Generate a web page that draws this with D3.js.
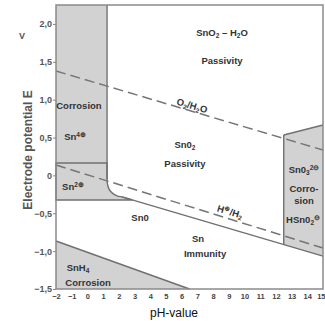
<!DOCTYPE html>
<html>
<head>
<meta charset="utf-8">
<script src="https://cdn.jsdelivr.net/npm/d3@7"></script>
<style>
  body { margin: 0; background: #fff; }
  svg { display: block; }
</style>
</head>
<body>
<script>

// ---- data (pH, potential E in V) ----

const phTicks = [-2, -1, 0, 1, 2, 3, 4, 5, 6, 7, 8, 9, 10, 11, 12, 13, 14, 15];
const eTicks = [2.0, 1.5, 1.0, 0.5, 0, -0.5, -1.0, -1.5];

// Sn4+ / Sn2+ boundary, Sn2+ lower limit, acid limit of SnO2
const sn4Sn2E = 0.164;
const sn2LowE = -0.325;
const acidPh = 1.25;
const alkaliPh = 12.5;

// SnO2 / Sn line  E = a + b * pH
const snLineA = -0.15;
const snLineB = -0.061;

// water lines (end points)
const o2Line = [[-2, 1.378], [15, 0.335]];
const h2Line = [[-2, 0.137], [15, -0.959]];

// SnH4 corrosion boundary
const snh4Line = [[-2, -0.866], [6.5, -1.5]];

// top of alkaline corrosion region
const alkaliTop = [[12.5, 0.533], [15, 0.665]];

const labels = [
  { t: [["SnO"], ["2", "sub"], [" – H"], ["2", "sub"], ["O"]], ph: 8.57, e: 1.89 },
  { t: [["Passivity"]], ph: 8.57, e: 1.52 },
  { t: [["O"], ["2", "sub"], ["/H"], ["2", "sub"], ["O"]], ph: 6.66, e: 0.92, rot: 16 },
  { t: [["Sn0"], ["2", "sub"]], ph: 6.21, e: 0.40 },
  { t: [["Passivity"]], ph: 6.21, e: 0.16 },
  { t: [["Corrosion"]], ph: -0.54, e: 0.92 },
  { t: [["Sn"], ["4⊕", "sup"]], ph: -0.79, e: 0.51 },
  { t: [["Sn"], ["2⊕", "sup"]], ph: -0.92, e: -0.15 },
  { t: [["Sn0"]], ph: 3.35, e: -0.56 },
  { t: [["Sn"]], ph: 7.04, e: -0.83 },
  { t: [["Immunity"]], ph: 7.49, e: -1.03 },
  { t: [["H"], ["⊕", "sup"], ["/H"], ["2", "sub"]], ph: 9.08, e: -0.48, rot: 16 },
  { t: [["Sn0"], ["3", "sub"], ["2⊖", "sup"]], ph: 13.79, e: 0.07 },
  { t: [["Corro-"]], ph: 13.79, e: -0.17 },
  { t: [["sion"]], ph: 13.79, e: -0.34 },
  { t: [["HSn0"], ["2", "sub"], ["⊖", "sup"]], ph: 13.73, e: -0.59 },
  { t: [["SnH"], ["4", "sub"]], ph: -0.6, e: -1.22 },
  { t: [["Corrosion"]], ph: 0.04, e: -1.41 }
];


// ---- layout ----

const WIDTH = 325, HEIGHT = 321;
const LEFT = 56, RIGHT = 323, TOP = 5, BOTTOM = 289;

const FILL = "#d2d2d2";
const LINE = "#707070";
const TEXT = "#333";

const x = d3.scaleLinear().domain([-2, 15]).range([LEFT, RIGHT]);
const y = d3.scaleLinear().domain([-1.5, 2.25]).range([BOTTOM, TOP]);

const snLine = ph => snLineA + snLineB * ph;
// where the SnO2/Sn line meets the Sn2+ lower limit
const snLineCross = (sn2LowE - snLineA) / snLineB;

const svg = d3.select("body").append("svg")
    .attr("width", WIDTH)
    .attr("height", HEIGHT)
    .attr("font-family", "'Liberation Sans', Arial, sans-serif");

const line = d3.line().x(d => x(d[0])).y(d => y(d[1]));


// ---- shaded regions ----

// Sn4+ corrosion
svg.append("path")
    .attr("d", line([[-2, 2.25], [acidPh, 2.25], [acidPh, sn4Sn2E], [-2, sn4Sn2E]]) + "Z")
    .attr("fill", FILL);

// Sn2+ corrosion, with the rounded corner down to the SnO2/Sn line
const curveEnd = 2.2;
const sn2 = d3.path();
sn2.moveTo(x(-2), y(sn4Sn2E));
sn2.lineTo(x(acidPh), y(sn4Sn2E));
sn2.lineTo(x(acidPh), y(-0.05));
sn2.quadraticCurveTo(x(acidPh), y(-0.26), x(curveEnd), y(snLine(curveEnd)));
sn2.lineTo(x(snLineCross), y(sn2LowE));
sn2.lineTo(x(-2), y(sn2LowE));
sn2.closePath();
svg.append("path")
    .attr("d", sn2.toString())
    .attr("fill", FILL);

// alkaline corrosion
svg.append("path")
    .attr("d", line([alkaliTop[0], alkaliTop[1], [15, snLine(15)], [alkaliPh, snLine(alkaliPh)]]) + "Z")
    .attr("fill", FILL);

// SnH4 corrosion
svg.append("path")
    .attr("d", line([snh4Line[0], snh4Line[1], [-2, -1.5]]) + "Z")
    .attr("fill", FILL);


// ---- boundary lines ----

const bounds = svg.append("g")
    .attr("fill", "none")
    .attr("stroke", LINE)
    .attr("stroke-width", 1.4);

bounds.append("path").attr("d", line([[acidPh, 2.25], [acidPh, -0.05]]));
bounds.append("path").attr("d", sn2.toString());
bounds.append("path").attr("d", line([[curveEnd, snLine(curveEnd)], [15, snLine(15)]]));
bounds.append("path").attr("d", line([[alkaliPh, alkaliTop[0][1]], [alkaliPh, snLine(alkaliPh)]]));
bounds.append("path").attr("d", line(alkaliTop));
bounds.append("path").attr("d", line(snh4Line));

// water stability lines
const water = svg.append("g")
    .attr("fill", "none")
    .attr("stroke", "#757575")
    .attr("stroke-width", 1.5)
    .attr("stroke-dasharray", "10,5");
water.append("path").attr("d", line(o2Line));
water.append("path").attr("d", line(h2Line));

// frame
svg.append("rect")
    .attr("x", LEFT)
    .attr("y", TOP)
    .attr("width", RIGHT - LEFT)
    .attr("height", BOTTOM - TOP)
    .attr("fill", "none")
    .attr("stroke", "#8a8a8a")
    .attr("stroke-width", 1.5);


// ---- axes ----

const fmt = d => d === 0 ? "0" : d3.format(".1f")(d).replace(".", ",");

const yAxis = svg.append("g")
    .attr("transform", "translate(" + LEFT + ",0)")
    .call(d3.axisLeft(y).tickValues(eTicks).tickSize(3).tickFormat(fmt));
yAxis.select(".domain").remove();
yAxis.selectAll("line").attr("stroke", "#888");
yAxis.selectAll("text")
    .attr("font-family", "'Liberation Sans', Arial, sans-serif")
    .attr("font-size", 9)
    .attr("font-weight", "bold")
    .attr("fill", "#555")
    .attr("x", -4);

const xAxis = svg.append("g")
    .attr("transform", "translate(0," + BOTTOM + ")")
    .call(d3.axisBottom(x).tickValues(phTicks).tickSize(0).tickFormat(d3.format("d")));
xAxis.select(".domain").remove();
xAxis.selectAll("text")
    .attr("font-family", "'Liberation Sans', Arial, sans-serif")
    .attr("font-size", 7.5)
    .attr("font-weight", "bold")
    .attr("fill", "#444")
    .attr("y", 5);
// last label sits at the window edge: pull it inside
xAxis.selectAll("text")
    .filter(d => d === 15)
    .attr("text-anchor", "end")
    .attr("x", 2);

svg.append("text")
    .attr("x", 19)
    .attr("y", 39)
    .attr("font-size", 9)
    .attr("font-weight", "bold")
    .attr("fill", "#555")
    .text("V");

svg.append("text")
    .attr("transform", "translate(32,150) rotate(-90)")
    .attr("text-anchor", "middle")
    .attr("font-size", 12)
    .attr("font-weight", "bold")
    .attr("fill", "#555")
    .text("Electrode potential E");

svg.append("text")
    .attr("x", 174)
    .attr("y", 317)
    .attr("text-anchor", "middle")
    .attr("font-size", 12)
    .attr("fill", "#111")
    .text("pH-value");


// ---- region labels ----

const lbl = svg.append("g")
    .attr("font-size", 9.5)
    .attr("font-weight", "bold")
    .attr("fill", TEXT)
    .attr("text-anchor", "middle");

labels.forEach(l =>
{
  const t = lbl.append("text")
      .attr("transform", "translate(" + x(l.ph) + "," + y(l.e) + ") rotate(" + (l.rot || 0) + ")")
      .attr("dy", "0.35em");
  l.t.forEach(part =>
  {
    const span = t.append("tspan").text(part[0]);
    if (part[1] === "sub")
    {
      span.attr("font-size", 6.5).attr("baseline-shift", "-2");
    }
    else if (part[1] === "sup")
    {
      span.attr("font-size", 6.5).attr("baseline-shift", "3.5");
    }
  });
});

</script>
</body>
</html>
